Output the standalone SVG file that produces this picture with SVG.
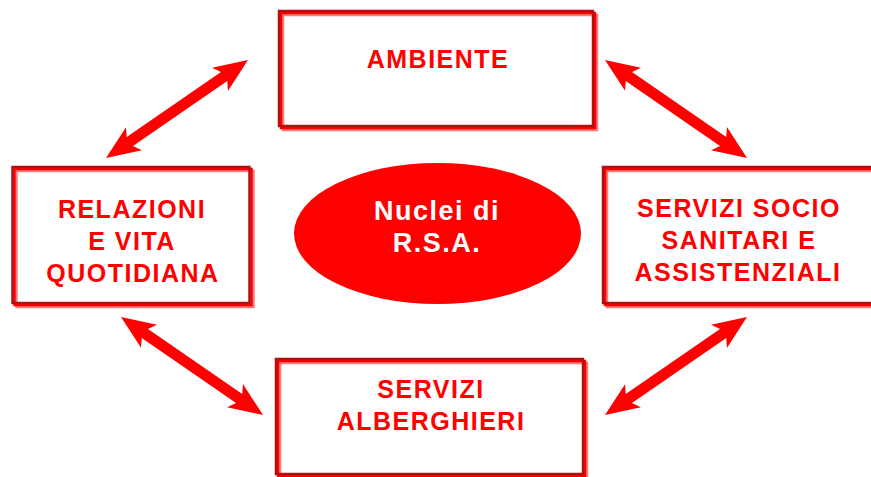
<svg xmlns="http://www.w3.org/2000/svg" xmlns:xlink="http://www.w3.org/1999/xlink" width="871" height="477" viewBox="0 0 871 477">
<style>
.f1{fill:none;stroke:#b01010;stroke-width:2.5}
.f2{fill:none;stroke:#ff0000;stroke-width:2.5}
.f3{fill:none;stroke:#ff7a7a;stroke-width:2.5}
.bg{fill:#ffffff}
.t{font-family:"Liberation Sans",Arial,sans-serif;font-weight:bold;font-size:25px;letter-spacing:1.5px;fill:#ff0000;text-anchor:middle}
.w{font-family:"Liberation Sans",Arial,sans-serif;font-weight:bold;font-size:27px;letter-spacing:1.5px;fill:#ffffff;text-anchor:middle}
.arrow{fill:#ff0000}
</style>
<defs>
<polygon id="arr" points="0,0 34,-14 29,-5.5 143.5,-5.5 138.5,-14 172.5,0 138.5,14 143.5,5.5 29,5.5 34,14"/>
</defs>
<rect width="871" height="477" fill="#ffffff"/>
<g id="connectors" class="arrow">
<use xlink:href="#arr" transform="translate(106,158) rotate(-34.6)"/>
<use xlink:href="#arr" transform="translate(605,60) rotate(34.6)"/>
<use xlink:href="#arr" transform="translate(121,317) rotate(34.6)"/>
<use xlink:href="#arr" transform="translate(605,415) rotate(-34.6)"/>
</g>
<g id="ambiente">
<rect class="bg" x="279" y="11" width="314" height="115"/>
<rect class="f3" x="283" y="15" width="314" height="115"/>
<rect class="f2" x="281" y="13" width="314" height="115"/>
<rect class="f1" x="279" y="11" width="314" height="115"/>
<text class="t" x="438" y="68">AMBIENTE</text>
</g>
<g id="relazioni">
<rect class="bg" x="12.5" y="167" width="237" height="136"/>
<rect class="f3" x="16.5" y="171" width="237" height="136"/>
<rect class="f2" x="14.5" y="169" width="237" height="136"/>
<rect class="f1" x="12.5" y="167" width="237" height="136"/>
<text class="t" x="132" y="218">RELAZIONI</text>
<text class="t" x="132" y="250">E VITA</text>
<text class="t" x="133" y="282">QUOTIDIANA</text>
</g>
<g id="servizi-socio">
<rect class="bg" x="603" y="167" width="290" height="136"/>
<rect class="f3" x="607" y="171" width="290" height="136"/>
<rect class="f2" x="605" y="169" width="290" height="136"/>
<rect class="f1" x="603" y="167" width="290" height="136"/>
<text class="t" x="739" y="217">SERVIZI SOCIO</text>
<text class="t" x="739" y="249">SANITARI E</text>
<text class="t" x="738" y="281">ASSISTENZIALI</text>
</g>
<g id="servizi-alberghieri">
<rect class="bg" x="276" y="359" width="307" height="115"/>
<rect class="f3" x="280" y="363" width="307" height="115"/>
<rect class="f2" x="278" y="361" width="307" height="115"/>
<rect class="f1" x="276" y="359" width="307" height="115"/>
<text class="t" x="431" y="398">SERVIZI</text>
<text class="t" x="431" y="430">ALBERGHIERI</text>
</g>
<g id="nuclei">
<ellipse cx="437.5" cy="233.5" rx="143.5" ry="70.5" fill="#ff0000"/>
<text class="w" x="437" y="220">Nuclei di</text>
<text class="w" x="437" y="252">R.S.A.</text>
</g>
</svg>
